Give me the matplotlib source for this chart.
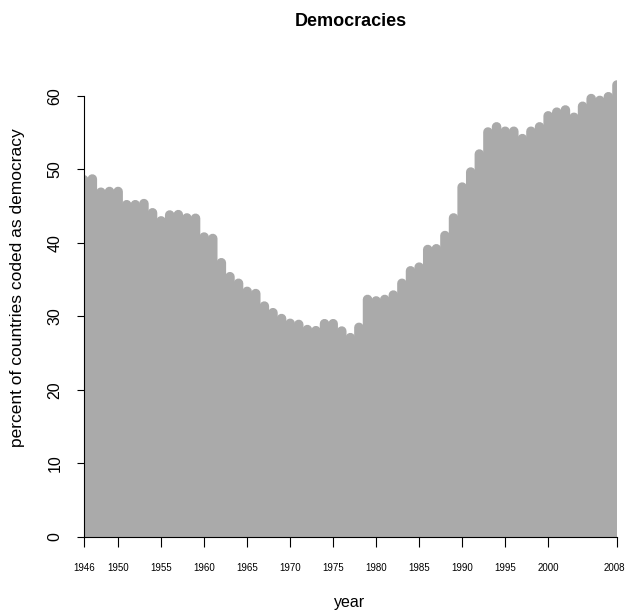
import matplotlib
matplotlib.use("Agg")
import matplotlib.pyplot as plt
import matplotlib.transforms as mtransforms

plt.rcParams['font.family'] = ['Liberation Sans', 'DejaVu Sans']

# Share of countries coded as democracy, by year
years = list(range(1946, 2009))
pct_democracy = [
    48.6, 48.7, 46.9, 47.0, 47.0, 45.2, 45.2, 45.35, 44.1, 43.0,   # 1946-1955
    43.8, 43.85, 43.4, 43.35, 40.8, 40.6, 37.3, 35.4, 34.5, 33.4,  # 1956-1965
    33.1, 31.4, 30.5, 29.7, 29.05, 28.9, 28.2, 28.05, 29.0, 29.0,  # 1966-1975
    28.0, 27.1, 28.5, 32.3, 32.1, 32.3, 32.9, 34.5, 36.2, 36.7,    # 1976-1985
    39.1, 39.2, 41.0, 43.4, 47.6, 49.65, 52.1, 55.1, 55.8, 55.2,   # 1986-1995
    55.2, 54.2, 55.2, 55.8, 57.3, 57.8, 58.1, 57.1, 58.6, 59.65,   # 1996-2005
    59.4, 59.9, 61.5,                                              # 2006-2008
]
year_ticks = [1946, 1950, 1955, 1960, 1965, 1970, 1975, 1980, 1985,
              1990, 1995, 2000, 2008]
pct_ticks = [0, 10, 20, 30, 40, 50, 60]

W, H, DPI = 626, 610, 100
fig = plt.figure(figsize=(W / DPI, H / DPI), dpi=DPI)

# plot region in pixels
x0, x1 = 83.7, 617.0
y_zero = 536.7
px_per_unit = 7.345
y_top_val = 64
ax = fig.add_axes([x0 / W, (H - y_zero) / H,
                   (x1 - x0) / W, y_top_val * px_per_unit / H])

# histogram-style vertical lines, one year wide, round ends
bar_w = (x1 - x0) / (2008 - 1946) * 72 / DPI + 0.7
bars = ax.vlines(years, 0, pct_democracy, colors='#AAAAAA',
                 linewidth=bar_w, capstyle='round')
bars.set_snap(False)

ax.set_xlim(1946, 2008)
ax.set_ylim(0, y_top_val)

for side in ['top', 'right']:
    ax.spines[side].set_visible(False)
ax.spines['left'].set_bounds(0, 60)
ax.spines['bottom'].set_bounds(1946, 2008)
for side in ['left', 'bottom']:
    ax.spines[side].set_linewidth(0.8)

ax.set_xticks(year_ticks)
ax.set_xticklabels([str(y) for y in year_ticks], fontsize=7)
ax.tick_params(axis='x', length=7, width=0.8, pad=12)
# keep the last year label inside the figure edge
last = ax.get_xticklabels()[-1]
last.set_transform(last.get_transform() +
                   mtransforms.ScaledTranslation(-3 / DPI, 0, fig.dpi_scale_trans))

ax.set_yticks(pct_ticks)
ax.set_yticklabels([str(p) for p in pct_ticks], fontsize=11.5,
                   rotation=90, va='center')
ax.tick_params(axis='y', length=5.3, width=0.8, pad=10)

fig.text(351 / W, 1 - 21 / H, "Democracies", ha='center', va='center',
         fontsize=13, fontweight='bold')
fig.text(350 / W, 1 - 603 / H, "year", ha='center', va='center',
         fontsize=11.5)
fig.text(18 / W, 1 - 288 / H, "percent of countries coded as democracy",
         ha='center', va='center', rotation=90, fontsize=12.5)

fig.savefig("out.png", dpi=DPI)
